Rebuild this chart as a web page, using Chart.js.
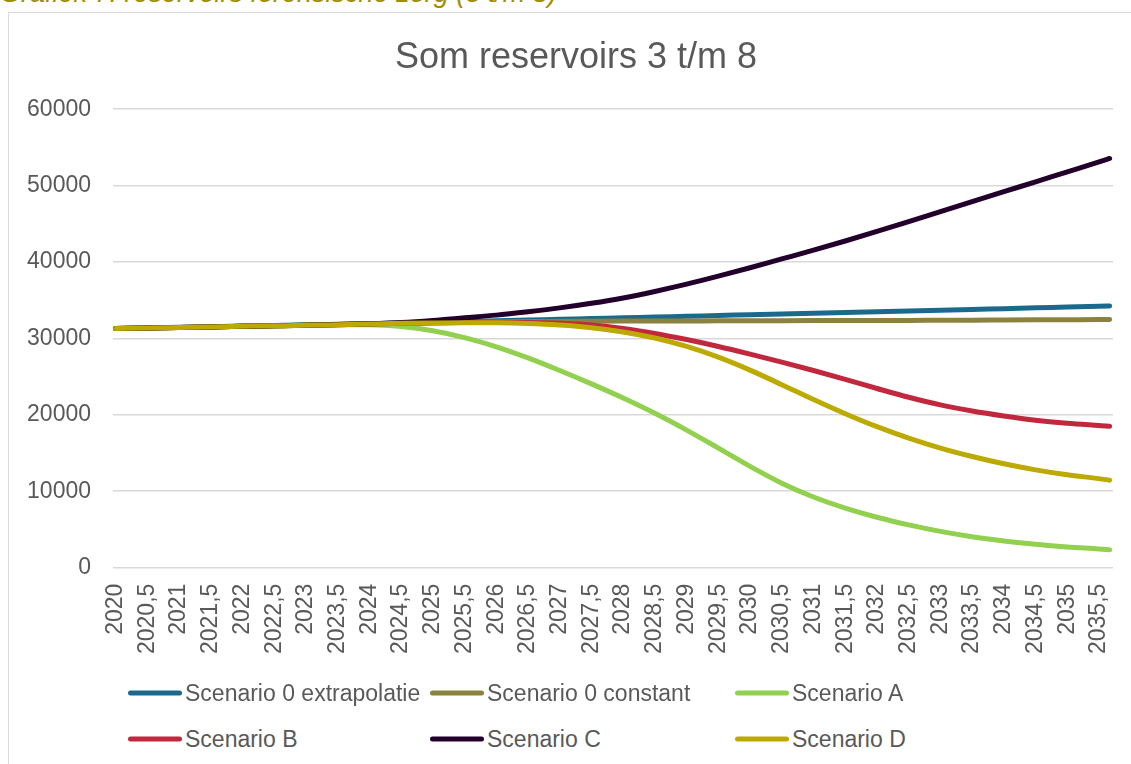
<!DOCTYPE html>
<html>
<head>
<meta charset="utf-8">
<title>Som reservoirs 3 t/m 8</title>
<script src="https://cdn.jsdelivr.net/npm/chart.js@4.4.1/dist/chart.umd.min.js"></script>
<style>
  html, body { margin: 0; padding: 0; background: #fff; width: 1131px; height: 764px; overflow: hidden;
               font-family: "Liberation Sans", Arial, sans-serif; }
  #caption { position: absolute; left: 0; top: -20px; font-size: 27px; line-height: 27px; font-style: italic;
             color: #9f8e00; white-space: nowrap; }
  #frame { position: absolute; left: 8px; top: 12px; width: 1300px; height: 900px;
           border-left: 1px solid #d9d9d9; border-top: 1px solid #d9d9d9; }
  #wrap { position: absolute; left: 0; top: 0; width: 1131px; height: 680px; }
  .lg-item { position: absolute; display: flex; align-items: center; transform: translateY(-50%);
             font-size: 23px; color: #595959; white-space: nowrap; }
  .lg-line { width: 54px; height: 5px; border-radius: 3px; margin-right: 3px; }
</style>
</head>
<body>
<div id="caption">Grafiek 7: reservoirs forensische zorg (3 t/m 8)</div>
<div id="frame"></div>
<div id="wrap"><canvas id="chart"></canvas></div>
<div id="legend"></div>
<script>
// half-year points (last point is where the lines stop)
const years = [2020, 2020.5, 2021, 2021.5, 2022, 2022.5, 2023, 2023.5, 2024, 2024.5,
               2025, 2025.5, 2026, 2026.5, 2027, 2027.5, 2028, 2028.5, 2029, 2029.5,
               2030, 2030.5, 2031, 2031.5, 2032, 2032.5, 2033, 2033.5, 2034, 2034.5,
               2035, 2035.5, 2035.667];

const tickValues = [2020, 2020.5, 2021, 2021.5, 2022, 2022.5, 2023, 2023.5, 2024, 2024.5,
                    2025, 2025.5, 2026, 2026.5, 2027, 2027.5, 2028, 2028.5, 2029, 2029.5,
                    2030, 2030.5, 2031, 2031.5, 2032, 2032.5, 2033, 2033.5, 2034, 2034.5,
                    2035, 2035.5];

const seriesNames = ['Scenario 0 extrapolatie', 'Scenario 0 constant', 'Scenario A',
                     'Scenario B', 'Scenario C', 'Scenario D'];
const seriesColors = ['#1b6a8d', '#8c8240', '#92d050', '#c1283d', '#22002b', '#bdaa00'];

const scen0Extrapolatie = [31300, 31380, 31460, 31540, 31620, 31700, 31780, 31850, 31920, 32000,
                           32100, 32200, 32300, 32400, 32500, 32600, 32700, 32800, 32900, 33000,
                           33100, 33200, 33300, 33400, 33500, 33600, 33700, 33800, 33900, 34000,
                           34100, 34200, 34240];
const scen0Constant = [31300, 31370, 31440, 31510, 31580, 31650, 31720, 31790, 31860, 31940,
                       32020, 32100, 32160, 32200, 32230, 32250, 32270, 32280, 32290, 32300,
                       32310, 32320, 32330, 32340, 32350, 32360, 32380, 32390, 32410, 32430,
                       32450, 32470, 32480];
const scenA = [31300, 31370, 31440, 31510, 31580, 31650, 31720, 31780, 31780, 31550,
               31000, 30100, 28900, 27450, 25800, 24050, 22200, 20200, 18000, 15650,
               13250, 11050, 9250, 7800, 6600, 5600, 4750, 4050, 3500, 3050,
               2700, 2450, 2350];
const scenB = [31300, 31370, 31440, 31510, 31580, 31650, 31720, 31800, 31880, 31980,
               32050, 32080, 32100, 32080, 31980, 31750, 31300, 30650, 29850, 28950,
               27950, 26900, 25800, 24650, 23450, 22300, 21300, 20500, 19850, 19300,
               18900, 18600, 18500];
const scenC = [31300, 31370, 31440, 31510, 31580, 31650, 31730, 31820, 31920, 32080,
               32350, 32700, 33050, 33500, 34000, 34600, 35300, 36150, 37100, 38150,
               39250, 40400, 41550, 42750, 44000, 45300, 46600, 47900, 49200, 50500,
               51800, 53100, 53550];
const scenD = [31300, 31370, 31440, 31510, 31580, 31650, 31720, 31800, 31880, 31970,
               32020, 32050, 32040, 31950, 31750, 31400, 30850, 30050, 28950, 27550,
               25850, 23950, 22000, 20150, 18450, 16950, 15650, 14550, 13600, 12800,
               12150, 11650, 11450];

const seriesValues = [scen0Extrapolatie, scen0Constant, scenA, scenB, scenC, scenD];

const textColor = '#595959';
const fontFamily = '"Liberation Sans", Arial, sans-serif';

function buildDatasets() {
    return seriesNames.map((name, i) => ({
        label: name,
        data: years.map((x, j) => ({ x: x, y: seriesValues[i][j] })),
        borderColor: seriesColors[i],
        backgroundColor: seriesColors[i],
        borderWidth: 5,
        borderCapStyle: 'round',
        borderJoinStyle: 'round',
        pointRadius: 0,
        pointHoverRadius: 0,
        fill: false,
        cubicInterpolationMode: 'monotone',
        order: seriesNames.length - i   // later series drawn on top, like Excel
    }));
}

const chart = new Chart(document.getElementById('chart'), {
    type: 'line',
    data: { datasets: buildDatasets() },
    options: {
        responsive: true,
        maintainAspectRatio: false,
        animation: false,
        layout: { padding: { top: 36, left: 27, right: 6, bottom: 10 } },
        plugins: {
            legend: { display: false },
            tooltip: { enabled: false },
            title: {
                display: true,
                text: 'Som reservoirs 3 t/m 8',
                color: textColor,
                font: { family: fontFamily, size: 36, weight: 'normal' },
                padding: { top: 0, bottom: 30 }
            }
        },
        scales: {
            x: {
                type: 'linear',
                min: 2019.96,
                max: 2035.72,
                afterBuildTicks: axis => { axis.ticks = tickValues.map(v => ({ value: v })); },
                // plot ends 18px from the right edge while the title box stays wider
                afterFit: axis => { axis.paddingLeft = 0; axis.paddingRight = 18; },
                ticks: {
                    autoSkip: false,
                    minRotation: 90,
                    maxRotation: 90,
                    padding: 16,
                    color: textColor,
                    font: { family: fontFamily, size: 23 },
                    callback: v => String(v).replace('.', ',')
                },
                grid: { display: false, drawTicks: false },
                border: { display: false }
            },
            y: {
                min: 0,
                max: 60000,
                afterFit: axis => { axis.width = 86; },
                ticks: {
                    stepSize: 10000,
                    padding: 22,
                    color: textColor,
                    font: { family: fontFamily, size: 23 },
                    callback: v => String(v)
                },
                grid: { color: '#d9d9d9', lineWidth: 1.5, drawTicks: false },
                border: { display: false }
            }
        }
    }
});

// legend in two rows of three, same grid as the original
const legendCols = [128, 430, 735];
const legendRows = [693, 739];
const legendEl = document.getElementById('legend');
chart.data.datasets.forEach((ds, i) => {
    const item = document.createElement('div');
    item.className = 'lg-item';
    item.style.left = legendCols[i % 3] + 'px';
    item.style.top = legendRows[Math.floor(i / 3)] + 'px';
    item.innerHTML = '<span class="lg-line" style="background:' + ds.borderColor + '"></span>' + ds.label;
    legendEl.appendChild(item);
});
</script>
</body>
</html>
